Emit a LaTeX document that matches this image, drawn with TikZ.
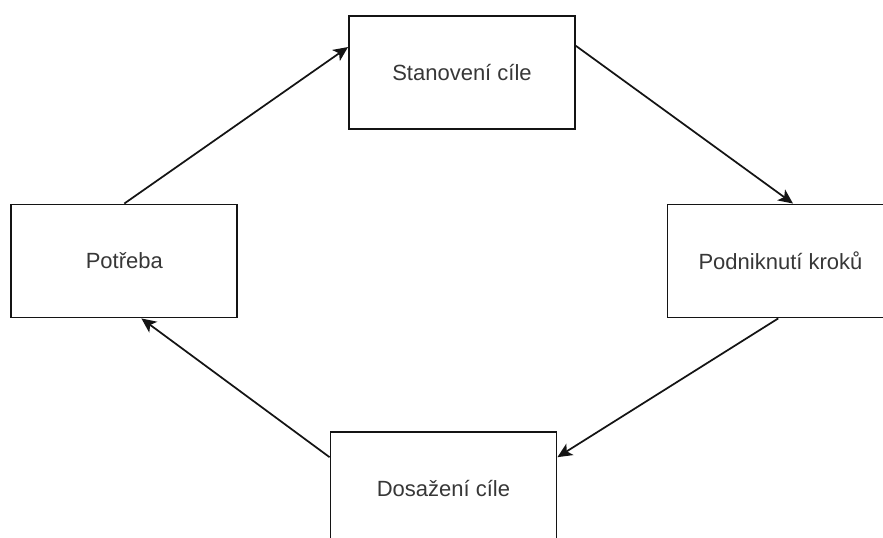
\documentclass[tikz,border=0pt]{standalone}
\usepackage{fontspec}
\setmainfont{Liberation Sans}
\usetikzlibrary{arrows.meta,calc}
\definecolor{txt}{RGB}{55,55,55}
\definecolor{ln}{RGB}{20,20,20}
\tikzset{
  stagebox/.style={draw=ln, line width=1.4pt, fill=white, rectangle, inner sep=0pt,
    minimum width=169.5pt, minimum height=84.75pt,
    font=\fontsize{16.5pt}{19pt}\selectfont, text=txt},
  flow/.style={draw=ln, line width=1.3pt,
    -{Stealth[length=11pt, width=10pt, inset=2.8pt]}}
}
\begin{document}
\begin{tikzpicture}[x=0.75pt, y=-0.75pt]
\useasboundingbox (0,0) rectangle (883,538);
\clip (0,0) rectangle (883,538);
\fill[white] (0,0) rectangle (883,538);
\node[stagebox] (stan) at (462,72.3) {Stanovení cíle};
\node[stagebox] (potr) at (124.3,261) {Potřeba};
\node[stagebox] (podn) at (780.5,261) {Podniknutí kroků};
\node[stagebox] (dosa) at (443.5,488.2) {Dosažení cíle};
\draw[flow] (potr.north) -- ($(stan.north west)!0.28!(stan.south west)$);
\draw[flow] ($(stan.north east)!0.27!(stan.south east)$) -- ($(podn.north west)!0.555!(podn.north east)$);
\draw[flow] ($(podn.south west)!0.49!(podn.south east)$) -- ($(dosa.north east)!0.23!(dosa.south east)$);
\draw[flow] ($(dosa.north west)!0.23!(dosa.south west)$) -- ($(potr.south west)!0.575!(potr.south east)$);
\end{tikzpicture}
\end{document}
